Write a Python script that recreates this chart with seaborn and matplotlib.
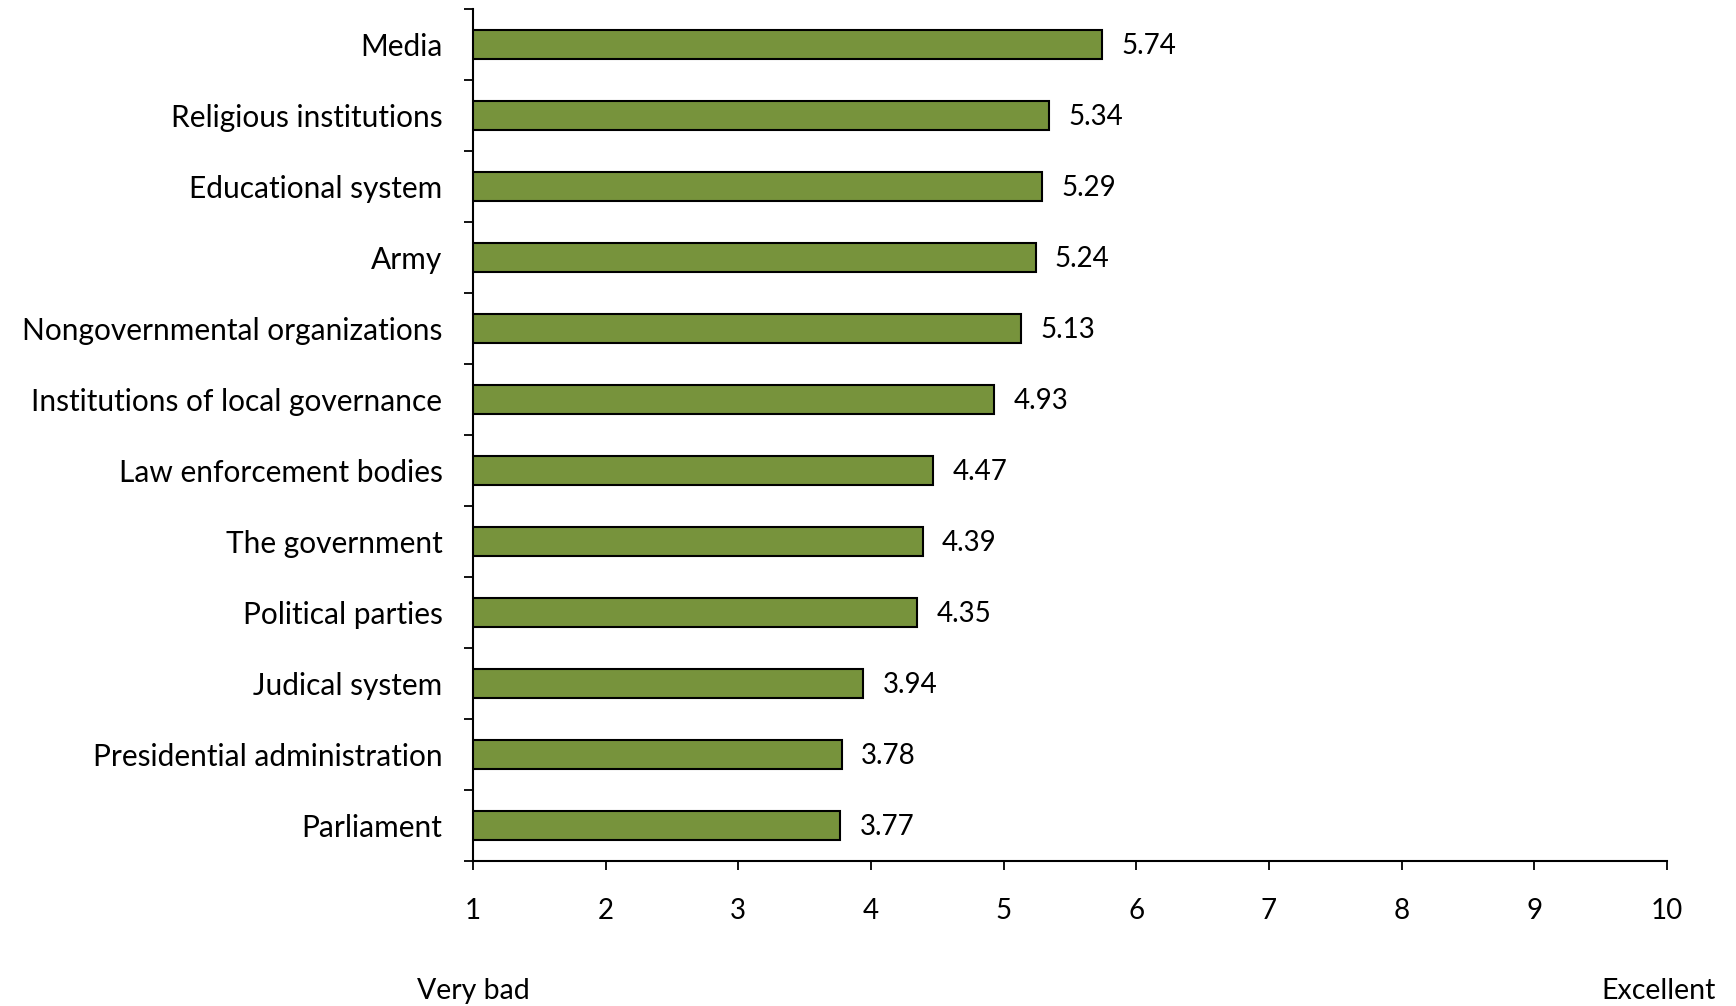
import numpy as np
import pandas as pd
import matplotlib
matplotlib.use("Agg")
import matplotlib.pyplot as plt
import matplotlib.transforms as mtransforms
import seaborn as sns

# -----------------------------
# Data
# -----------------------------
institutions = [
    "Media", "Religious institutions", "Educational system", "Army",
    "Nongovernmental organizations", "Institutions of local governance",
    "Law enforcement bodies", "The government", "Political parties",
    "Judical system", "Presidential administration", "Parliament",
]
scores = [5.74, 5.34, 5.29, 5.24, 5.13, 4.93, 4.47, 4.39, 4.35, 3.94, 3.78, 3.77]
x_ticks = [1, 2, 3, 4, 5, 6, 7, 8, 9, 10]
scale_ends = ["Very bad", "Excellent"]

df = pd.DataFrame({"institution": institutions, "score": scores})

# -----------------------------
# Style
# -----------------------------
sns.set_theme(style="white")
plt.rcParams["font.family"] = ["Lato", "DejaVu Sans"]

fig = plt.figure(figsize=(17.36, 10.06), dpi=100)
ax = fig.add_axes([473 / 1736, 1 - 861 / 1006, (1667 - 473) / 1736, (861 - 9) / 1006])

sns.barplot(
    data=df, x="score", y="institution", orient="h",
    color="#77933C", saturation=1, width=0.4,
    edgecolor="black", linewidth=1.5, ax=ax,
)

ax.set_xlim(1, 10)
ax.set_ylim(len(institutions) - 0.5, -0.5)
ax.set_xticks(x_ticks)
ax.set_xticklabels([str(t) for t in x_ticks])
ax.set_xlabel("")
ax.set_ylabel("")

# value labels
for i, v in enumerate(scores):
    ax.annotate(f"{v:.2f}", xy=(v, i), xytext=(14, -1), textcoords="offset points",
                va="center", ha="left", fontsize=20, color="black")

# Excel-like ticks: y ticks between categories
ax.set_yticks(np.arange(-0.5, len(institutions), 1), minor=True)
ax.tick_params(axis="y", which="major", length=0, pad=22, labelsize=21.5, colors="black")
ax.tick_params(axis="y", which="minor", left=True, length=6.5, width=1.3, color="black")
ax.tick_params(axis="x", which="major", bottom=True, length=6.5, width=1.3,
               pad=20, labelsize=20, colors="black")

sns.despine(ax=ax, top=True, right=True)
for s in ["left", "bottom"]:
    ax.spines[s].set_color("black")
    ax.spines[s].set_linewidth(1.5)
ax.grid(False)

# scale end labels
fig.text(417 / 1736, 1 - 991 / 1006, scale_ends[0], ha="left", va="center",
         fontsize=20.5, color="black")
fig.text(1716 / 1736, 1 - 991 / 1006, scale_ends[1], ha="right", va="center",
         fontsize=20.5, color="black")

fig.savefig("out.png", dpi=100)
plt.close(fig)
